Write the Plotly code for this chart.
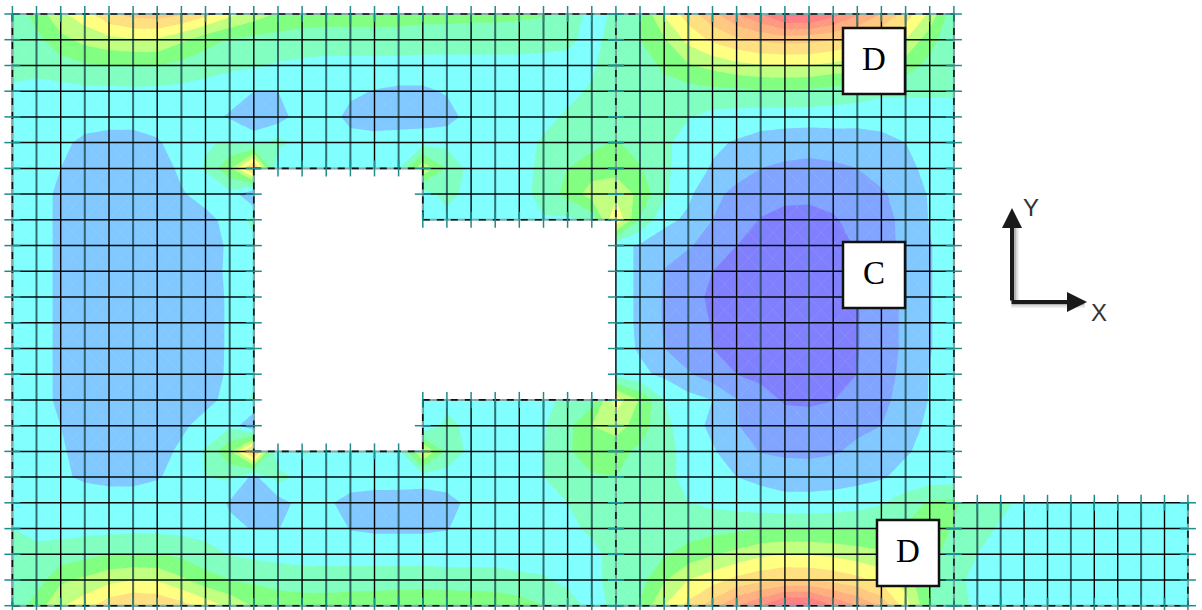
import plotly.graph_objects as go

N = None
# node positions of the mesh
grid_x = [12.4,36.5,60.7,84.8,109.0,133.1,157.2,181.4,205.5,229.7,253.8,278.0,302.1,326.2,350.4,374.5,398.6,422.8,446.9,471.1,
          495.2,519.3,543.5,567.6,591.8,615.9,640.0,664.2,688.3,712.5,736.6,760.7,784.9,809.0,833.2,857.3,881.4,905.6,929.7,953.9,
          977.3,1000.7,1024.1,1047.5,1070.9,1094.3,1117.7,1141.1,1164.5,1187.9]
grid_y = [14,39.7,65.5,91.2,116.9,142.6,168.4,194.1,219.8,245.6,271.3,297,322.8,348.5,374.2,399.9,425.7,451.4,477.1,502.8,528.6,554.3,580,605.7]

# field values (one list per mesh row, 40 nodes)
row_00 = [4.3,5.4,6.8,7.6,8.8,9.4,9.5,9.1,8.3,7.3, 6.5,5.9,5.6,5.5,5.5,5.5,5.5,5.4,5.4,5.3, 5.3,5.2,5.1,4.7,3.6,4.2,5.0,7.1,8.5,9.7, 11,12,13.4,13.4,12.5,11.2,10,8.6,6.8,4.2]
row_01 = [4.2,4.7,5.7,6.3,6.7,6.9,6.9,6.2,5.4,4.9, 4.7,4.6,4.5,4.5,4.5,4.5,4.5,4.4,4.4,4.4, 4.4,4.4,4.3,4.2,3.7,4.4,5.0,5.9,7.3,8.2, 8.8,9.2,9.4,9.3,9.0,8.6,8.0,7.0,5.4,4.2]
row_02 = [4.2,4.3,4.5,4.9,5.0,5.0,5.0,4.7,4.4,4.2, 4.1,3.9,3.8,3.7,3.7,3.7,3.7,3.7,3.7,3.7, 3.7,3.7,3.7,3.7,3.85,4.6,4.7,5.1,5.9,6.3, 6.7,6.95,7.0,7.0,6.7,6.4,6.1,5.5,4.7,4.2]
row_03 = [3.9,3.7,3.7,3.75,3.75,3.8,3.75,3.7,3.6,3.4, 3.0,3.0,3.4,3.5,3.2,2.95,2.8,2.8,3.1,3.6, 3.7,3.7,3.7,3.8,4.1,4.8,4.8,4.8,4.6,4.75, 4.8,4.85,4.85,4.8,4.6,4.5,4.2,4.2,4.2,4.2]
row_04 = [3.5,3.5,3.5,3.4,3.4,3.4,3.4,3.4,3.3,2.9, 2.4,2.5,3.6,3.5,2.7,2.5,2.5,2.5,2.6,3.4, 3.6,3.7,3.8,4.1,4.4,4.5,4.4,4.3,4.05,3.7, 3.6,3.5,3.5,3.5,3.5,3.4,3.4,3.4,3.4,3.4]
row_05 = [3.4,3.3,3.2,2.8,2.6,2.6,2.9,3.4,3.9,4.1, 3.5,4.4,3.5,3.5,3.4,3.4,3.5,3.6,3.7,3.6, 3.6,3.7,4.1,4.7,4.7,5.1,4.5,4.2,3.6,3.2, 2.9,2.6,2.4,2.3,2.4,2.5,2.7,3.0,3.3,3.4]
row_06 = [3.4,3.4,3.0,2.5,2.3,2.3,2.5,3.2,4.1,5.8, 9.6,2.9,4.1,3.7,3.5,3.5,3.9,6.8,4.9,3.6, 3.6,3.7,4.2,5.0,5.5,5.6,5.1,4.2,3.5,2.9, 2.3,2.0,1.85,1.8,1.85,2.0,2.3,2.8,3.2,3.4]
row_07 = [3.4,3.4,2.8,2.5,2.4,2.4,2.4,2.9,3.4,3.7, 1.8,N,N,N,N,N,N,3.5,4.4,3.6, 3.5,3.6,4.4,5.3,6.5,6.8,5.7,4.2,3.2,2.2, 1.8,1.4,1.25,1.2,1.3,1.5,1.9,2.3,3.1,3.4]
row_08 = [3.3,3.4,2.8,2.4,2.3,2.3,2.3,2.4,2.7,3.3, 4.3,N,N,N,N,N,N,3.6,3.6,3.7, 3.8,4.0,3.9,3.8,4.3,8.0,4.9,3.3,2.8,2.0, 1.5,0.95,0.7,0.7,0.9,1.3,1.75,2.2,3.05,3.4]
row_09 = [3.3,3.4,2.8,2.3,2.2,2.2,2.2,2.2,2.4,3.2, 3.7,N,N,N,N,N,N,N,N,N, N,N,N,N,N,3.4,2.85,2.4,2.1,1.6, 1.0,0.75,0.5,0.5,0.6,1.1,1.7,2.2,2.95,3.4]
row_10 = [3.3,3.4,2.8,2.3,2.2,2.2,2.2,2.2,2.3,3.3, 3.4,N,N,N,N,N,N,N,N,N, N,N,N,N,N,3.4,2.85,1.95,1.45,1.0, 0.7,0.5,0.4,0.4,0.4,1.1,1.5,2.2,2.95,3.4]
row_11 = [3.3,3.4,2.8,2.2,2.2,2.2,2.2,2.2,2.3,3.2, 3.5,N,N,N,N,N,N,N,N,N, N,N,N,N,N,3.4,2.85,1.9,1.3,0.85, 0.6,0.3,0.3,0.3,0.4,0.95,1.5,2.2,2.95,3.4]
row_12 = [3.3,3.4,2.8,2.2,2.2,2.2,2.2,2.2,2.3,3.2, 3.5,N,N,N,N,N,N,N,N,N, N,N,N,N,N,3.4,2.85,1.9,1.35,0.95, 0.6,0.3,0.3,0.3,0.4,0.95,1.5,2.2,2.95,3.4]
row_13 = [3.3,3.4,2.8,2.3,2.2,2.2,2.2,2.2,2.3,3.2, 3.5,N,N,N,N,N,N,N,N,N, N,N,N,N,N,3.4,2.9,2.0,1.5,1.0, 0.7,0.5,0.4,0.4,0.5,0.95,1.5,2.2,2.95,3.4]
row_14 = [3.3,3.4,2.8,2.3,2.2,2.2,2.2,2.2,2.4,3.2, 3.6,N,N,N,N,N,N,N,N,N, N,N,N,N,N,3.6,3.2,2.8,2.1,1.5, 1.0,0.75,0.6,0.6,0.7,1.0,1.7,2.2,3.05,3.4]
row_15 = [3.4,3.4,2.8,2.4,2.3,2.3,2.3,2.4,2.7,3.3, 4.2,N,N,N,N,N,N,3.6,3.7,3.6, 3.6,3.7,3.9,4.1,4.6,7.5,5.9,4.0,3.4,3.0, 2.05,1.4,0.9,0.85,0.98,1.3,1.8,2.3,3.05,3.4]
row_16 = [3.4,3.4,3.0,2.5,2.4,2.4,2.4,2.8,3.4,3.8, 1.8,N,N,N,N,N,N,3.0,4.3,3.7, 3.5,3.6,3.9,4.7,6.0,6.5,5.5,4.3,3.4,2.8, 2.05,1.6,1.4,1.4,1.5,1.8,2.0,2.6,3.2,3.4]
row_17 = [3.4,3.4,3.1,2.7,2.5,2.5,2.6,3.2,4.1,5.8, 9.8,2.9,4.1,3.8,3.7,4.05,3.7,7.2,4.7,3.7, 3.6,3.6,4.0,4.9,5.4,5.3,4.8,4.3,3.7,3.1, 2.5,1.95,1.8,1.75,1.9,2.2,2.5,2.9,3.3,3.4]
row_18 = [3.5,3.5,3.2,2.8,2.6,2.6,2.9,3.4,4.0,4.2, 2.7,4.5,3.6,3.6,3.6,3.5,3.6,3.5,3.6,3.6, 3.6,3.7,4.0,4.4,4.9,5.0,4.8,4.3,3.7,3.4, 3.0,2.8,2.6,2.6,2.6,2.7,2.9,3.3,3.5,3.5]
row_19 = [3.7,3.7,3.7,3.7,3.7,3.7,3.7,3.7,3.5,2.9, 2.4,2.5,3.4,3.2,2.6,2.5,2.4,2.4,2.6,3.3, 3.6,3.6,3.7,4.0,4.5,4.7,4.6,4.3,4.0,3.8, 3.6,3.4,3.3,3.3,3.4,3.6,3.9,4.5,5.1,5.3]
row_20 = [4.0,3.8,3.7,3.7,3.7,3.75,3.75,3.7,3.6,3.2, 2.95,2.95,3.6,3.6,2.95,2.85,2.85,2.85,2.95,3.4, 3.6,3.6,3.6,3.75,4.2,4.5,4.5,4.6,4.5,4.65, 4.8,4.95,5.0,5.0,4.95,4.9,5.0,5.1,5.6,4.9]
row_21 = [4.3,4.2,4.4,4.7,5.0,5.05,5.0,4.8,4.4,3.95, 3.8,3.7,3.6,3.6,3.6,3.6,3.6,3.6,3.6,3.6, 3.6,3.6,3.6,3.6,3.7,4.4,4.6,4.9,5.4,5.9, 6.3,6.8,7.0,6.95,6.8,6.5,6.2,5.9,5.4,4.4]
row_22 = [4.2,4.5,5.8,6.2,6.7,6.95,6.9,6.2,5.4,5.0, 4.8,4.6,4.5,4.5,4.5,4.5,4.5,4.5,4.4,4.4, 4.4,4.2,4.1,3.8,3.7,4.4,4.6,5.9,7.0,7.6, 8.3,8.7,9.0,9.0,8.7,8.3,7.7,6.5,5.0,4.2]
row_23 = [4.3,5.5,6.9,7.6,8.6,9.1,8.9,8.4,7.6,6.8, 5.9,5.6,5.5,5.5,5.6,5.7,5.8,5.9,5.9,5.8, 5.7,5.5,5.0,4.4,3.7,4.2,5.1,7.0,8.3,9.5, 11,12,13.4,13.4,12,11,9.8,7.5,5.1,4.2]
main_rows = [row_00,row_01,row_02,row_03,row_04,row_05,row_06,row_07,row_08,row_09,row_10,row_11,
             row_12,row_13,row_14,row_15,row_16,row_17,row_18,row_19,row_20,row_21,row_22,row_23]

# right-hand strip, rows 19-23, 10 nodes
strip_19 = [3.95,4.2,3.8,3.7,3.7,3.7,3.7,3.7,3.7,3.7]
strip_20 = [4.3,3.9,3.7,3.7,3.7,3.7,3.7,3.7,3.7,3.7]
strip_21 = [4.0,3.7,3.7,3.7,3.7,3.7,3.7,3.7,3.7,3.7]
strip_22 = [3.8,3.7,3.7,3.7,3.7,3.7,3.7,3.7,3.7,3.7]
strip_23 = [3.9,3.6,3.6,3.6,3.6,3.6,3.6,3.6,3.6,3.6]
strip_rows = {19:strip_19,20:strip_20,21:strip_21,22:strip_22,23:strip_23}

band_colors = ['#8080ff','#80a4ff','#80c8ff','#80ffff','#80ffc0','#80ff80','#c0ff80','#ffff80',
               '#ffe080','#ffc880','#ffb080','#ff9880','#ff8080','#ff70a0']

box_labels = ['D','C','D']
box_left = [843,843,877]
box_top = [28,242,520]
box_size = [62,66]
# columns that render as wider grey-teal lines in the source picture
soft_columns = [1,3,5,7,9,11,13,14,16,18,20,22,24,26,28,31,33,35,37,40,41,44,47]

for r in main_rows:
    assert len(r) == 40
z = [main_rows[i] + strip_rows.get(i,[N]*10) for i in range(24)]

scale = []
nb = len(band_colors)
for i,c in enumerate(band_colors):
    scale += [[i/nb,c],[(i+1)/nb,c]]

fig = go.Figure()
fig.add_trace(go.Contour(x=grid_x,y=grid_y,z=z,connectgaps=True,zmin=0,zmax=nb,autocontour=False,
    contours=dict(start=1,end=nb-1,size=1,coloring='fill',showlines=False),
    line=dict(width=0,smoothing=0),colorscale=scale,showscale=False,hoverinfo='skip'))

# faint element diagonals
dx,dy=[],[]
for i in range(23):
    for k in range(49):
        if z[i][k] is None or z[i+1][k+1] is None or z[i+1][k] is None or z[i][k+1] is None: continue
        dx += [grid_x[k],grid_x[k+1],None,grid_x[k+1],grid_x[k],None]
        dy += [grid_y[i],grid_y[i+1],None,grid_y[i],grid_y[i+1],None]
fig.add_trace(go.Scatter(x=dx,y=dy,mode='lines',line=dict(color='rgba(255,255,255,0.08)',width=1),hoverinfo='skip',showlegend=False))

# white cover for the opening and the empty corner
gx,gy=grid_x,grid_y
hole_x=[gx[10],gx[17],gx[17],gx[25],gx[25],gx[17],gx[17],gx[10],gx[10]]
hole_y=[gy[6],gy[6],gy[8],gy[8],gy[15],gy[15],gy[17],gy[17],gy[6]]
fig.add_trace(go.Scatter(x=hole_x,y=hole_y,mode='lines',fill='toself',fillcolor='white',line=dict(width=0),hoverinfo='skip',showlegend=False))
corner_x=[gx[39],1202,1202,gx[39],gx[39]]
corner_y=[0,0,gy[19],gy[19],0]
fig.add_trace(go.Scatter(x=corner_x,y=corner_y,mode='lines',fill='toself',fillcolor='white',line=dict(width=0),hoverinfo='skip',showlegend=False))

# mesh lines: spans between nodes
def h_spans(i):
    if i<=5 or i==18: s=[(0,25),(25,39)]
    elif i>=19: s=[(0,25),(25,39),(39,49)]
    elif i in (6,7,16,17): s=[(0,10),(17,25),(25,39)]
    else: s=[(0,10),(25,39)]
    return s
def v_spans(k):
    if k<=10 or 25<=k<=39: return [(0,23)]
    if k<17: return [(0,6),(17,23)]
    if k<25: return [(0,8),(15,23)]
    return [(19,23)]
over=8
hx,hy,vx,vy,sx,sy,tx,ty=[],[],[],[],[],[],[],[]
for i in range(24):
    for a,b in h_spans(i):
        hx+=[gx[a],gx[b],None]; hy+=[gy[i],gy[i],None]
        tx+=[gx[a]-over,gx[a]+over,None,gx[b]-over,gx[b]+over,None]; ty+=[gy[i],gy[i],None,gy[i],gy[i],None]
for k in range(50):
    for a,b in v_spans(k):
        if k in soft_columns:
            sx+=[gx[k],gx[k],None]; sy+=[gy[a],gy[b],None]
        else:
            vx+=[gx[k],gx[k],None]; vy+=[gy[a],gy[b],None]
        tx+=[gx[k],gx[k],None,gx[k],gx[k],None]; ty+=[gy[a]-over,gy[a]+over,None,gy[b]-over,gy[b]+over,None]
fig.add_trace(go.Scatter(x=sx,y=sy,mode='lines',line=dict(color='rgba(30,70,75,0.8)',width=2),hoverinfo='skip',showlegend=False))
fig.add_trace(go.Scatter(x=vx,y=vy,mode='lines',line=dict(color='#000000',width=1.4),hoverinfo='skip',showlegend=False))
fig.add_trace(go.Scatter(x=hx,y=hy,mode='lines',line=dict(color='#050a0a',width=1.5),hoverinfo='skip',showlegend=False))
# boundary edges, dashed over teal
edge=[((0,0),(39,0)),((0,23),(49,23)),((0,0),(0,23)),((39,0),(39,19)),((49,19),(49,23)),((25,0),(25,8)),((25,15),(25,23)),
      ((10,6),(17,6)),((17,6),(17,8)),((17,8),(25,8)),((17,15),(25,15)),((17,15),(17,17)),((10,17),(17,17)),((10,6),(10,17)),((39,19),(39,23))]
ex,ey=[],[]
for (a,b),(c,d) in edge:
    ex+=[gx[a],gx[c],None]; ey+=[gy[b],gy[d],None]
fig.add_trace(go.Scatter(x=ex,y=ey,mode='lines',line=dict(color='rgba(120,170,170,1)',width=2),hoverinfo='skip',showlegend=False))
fig.add_trace(go.Scatter(x=ex,y=ey,mode='lines',line=dict(color='#111111',width=1.6,dash='7px,7px'),hoverinfo='skip',showlegend=False))
fig.add_trace(go.Scatter(x=tx,y=ty,mode='lines',line=dict(color='#1f8c8c',width=1.5),hoverinfo='skip',showlegend=False))

# soft shadow under the axis triad
for w,a,o in [(8,0.06,3),(6,0.10,2.5),(4,0.16,2)]:
    fig.add_trace(go.Scatter(x=[1012+o,1012+o,1082+o],y=[225+o,301+o,301+o],mode='lines',line=dict(color=f'rgba(0,0,0,{a})',width=w),hoverinfo='skip',showlegend=False))

shapes=[];ann=[]
for t,l,tp in zip(box_labels,box_left,box_top):
    shapes.append(dict(type='rect',x0=l,x1=l+box_size[0],y0=tp,y1=tp+box_size[1],fillcolor='white',line=dict(color='#111',width=2.5),layer='above'))
    ann.append(dict(x=l+box_size[0]/2,y=tp+box_size[1]/2-2,text=t,showarrow=False,font=dict(family='Liberation Serif',size=33,color='#000')))
ann.append(dict(x=1012,y=208,ax=1012,ay=302,xref='x',yref='y',axref='x',ayref='y',text='',showarrow=True,arrowhead=2,arrowwidth=4,arrowsize=1,arrowcolor='#1a1a1a',standoff=0))
ann.append(dict(x=1087,y=302,ax=1010,ay=302,xref='x',yref='y',axref='x',ayref='y',text='',showarrow=True,arrowhead=2,arrowwidth=4,arrowsize=1,arrowcolor='#1a1a1a',standoff=0))
ann.append(dict(x=1031,y=207,text='Y',showarrow=False,font=dict(family='Liberation Sans',size=24,color='#333')))
ann.append(dict(x=1099,y=312,text='X',showarrow=False,font=dict(family='Liberation Sans',size=24,color='#333')))

fig.update_layout(width=1202,height=610,autosize=False,margin=dict(l=0,r=0,t=0,b=0),paper_bgcolor='white',plot_bgcolor='white',
    xaxis=dict(range=[0,1202],visible=False,fixedrange=True),yaxis=dict(range=[610,0],visible=False,fixedrange=True),
    shapes=shapes,annotations=ann,showlegend=False)
fig.write_html("out.html",post_script="document.body.style.margin='0';document.documentElement.style.overflow='hidden';",config=dict(displayModeBar=False))
